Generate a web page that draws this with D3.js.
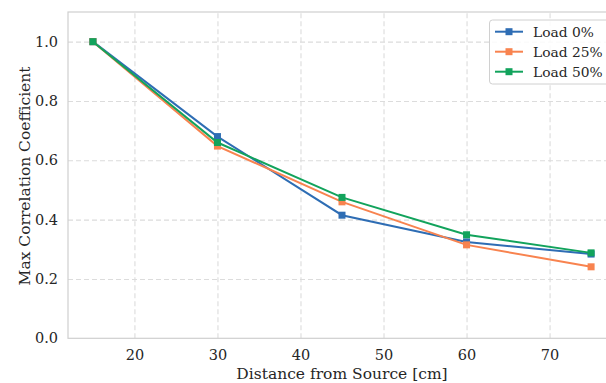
<!DOCTYPE html>
<html><head><meta charset="utf-8">
<script src="https://cdn.jsdelivr.net/npm/d3@7"></script>
<style>body{margin:0;background:#fff}svg{display:block}text{font-family:"DejaVu Serif",serif;fill:#262626}</style>
</head><body>
<script>
const distances = [15, 30, 45, 60, 75];
const load0 = [1.0, 0.68, 0.415, 0.325, 0.284];
const load25 = [1.0, 0.648, 0.46, 0.315, 0.241];
const load50 = [1.0, 0.66, 0.475, 0.349, 0.288];
const seriesNames = ["Load 0%", "Load 25%", "Load 50%"];
const seriesColors = ["#2e6db4", "#f8834f", "#12a35c"];
const xTicks = [20, 30, 40, 50, 60, 70];
const yTicks = [0.0, 0.2, 0.4, 0.6, 0.8, 1.0];

const W = 606, H = 383;
const m = {left: 68, top: 12, right: 616, bottom: 338.3};
const svg = d3.select("body").append("svg").attr("width", W).attr("height", H);
const x = d3.scaleLinear().domain([12, 78]).range([m.left, m.right]);
const y = d3.scaleLinear().domain([0, 1.1]).range([m.bottom, m.top]);

// grid
const gx = svg.append("g").attr("transform", `translate(0,${m.bottom})`)
  .call(d3.axisBottom(x).tickValues(xTicks).tickSize(-(m.bottom - m.top)).tickFormat(d => d).tickPadding(9));
gx.select(".domain").remove();
gx.selectAll("line").attr("stroke", "#dcdcdc").attr("stroke-dasharray", "5,3").attr("stroke-width", 1.1);
gx.selectAll("text").attr("font-size", 14.5).attr("fill", "#262626").attr("font-family", "DejaVu Serif").attr("dy", "0.85em");

const gy = svg.append("g").attr("transform", `translate(${m.left},0)`)
  .call(d3.axisLeft(y).tickValues(yTicks).tickSize(-(m.right - m.left)).tickFormat(d3.format(".1f")).tickPadding(10));
gy.select(".domain").remove();
gy.selectAll("line").attr("stroke", "#dcdcdc").attr("stroke-dasharray", "5,3").attr("stroke-width", 1.1);
gy.selectAll(".tick").filter(d => d === 0).select("line").remove();
gy.selectAll("text").attr("font-size", 14.5).attr("fill", "#262626").attr("font-family", "DejaVu Serif");

// spines
svg.append("rect").attr("x", m.left).attr("y", m.top).attr("width", m.right - m.left).attr("height", m.bottom - m.top)
  .attr("fill", "none").attr("stroke", "#cfcfcf").attr("stroke-width", 1.2);

const allSeries = [load0, load25, load50];
const line = d3.line().x((d, i) => x(distances[i])).y(d => y(d));
allSeries.forEach((s, k) => {
  const g = svg.append("g");
  g.append("path").datum(s).attr("d", line).attr("fill", "none").attr("stroke", seriesColors[k]).attr("stroke-width", 2);
  g.selectAll("rect").data(s).enter().append("rect")
    .attr("x", (d, i) => x(distances[i]) - 3.5).attr("y", d => y(d) - 3.5)
    .attr("width", 7).attr("height", 7).attr("fill", seriesColors[k]);
});

// axis labels
svg.append("text").attr("x", (m.left + m.right) / 2).attr("y", 379).attr("text-anchor", "middle")
  .attr("font-size", 15.5).text("Distance from Source [cm]");
svg.append("text").attr("transform", `translate(30,176) rotate(-90)`).attr("text-anchor", "middle")
  .attr("font-size", 15.5).text("Max Correlation Coefficient");

// legend
const lg = svg.append("g");
lg.append("rect").attr("x", 489.5).attr("y", 20).attr("width", 121).attr("height", 64).attr("rx", 3)
  .attr("fill", "#fff").attr("fill-opacity", 0.85).attr("stroke", "#d0d0d0").attr("stroke-width", 1);
seriesNames.forEach((n, k) => {
  const yy = 31.7 + k * 20;
  lg.append("line").attr("x1", 495).attr("x2", 523).attr("y1", yy).attr("y2", yy).attr("stroke", seriesColors[k]).attr("stroke-width", 2);
  lg.append("rect").attr("x", 509 - 3.5).attr("y", yy - 3.5).attr("width", 7).attr("height", 7).attr("fill", seriesColors[k]);
  lg.append("text").attr("x", 533).attr("y", yy).attr("dy", "0.35em").attr("font-size", 13.8).text(n);
});
</script>
</body></html>
